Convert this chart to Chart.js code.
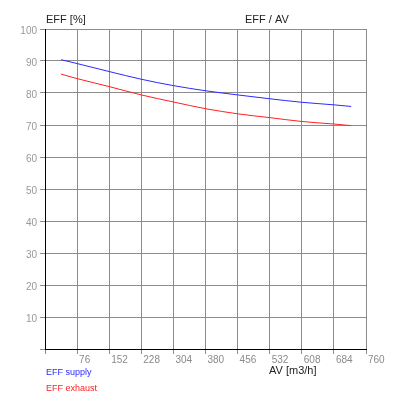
<!DOCTYPE html>
<html>
<head>
  <title>EFF / AV</title>
  <script src="https://cdn.jsdelivr.net/npm/chart.js"></script>
  <style>
    body {
      margin: 0;
      background: #fff;
    }
    #effChart {
      display: block;
    }
  </style>
</head>
<body>
  <canvas id="effChart" width="400" height="400"></canvas>

  <script>
    // air volume [m3/h] where the curves were read
    const airVolume = [38, 76, 152, 228, 304, 380, 456, 532, 608, 684, 725];
    const effSupply = [90.4, 89.2, 86.7, 84.3, 82.3, 80.7, 79.4, 78.2, 77.1, 76.3, 75.8];
    const effExhaust = [85.9, 84.5, 82.0, 79.4, 77.2, 75.1, 73.5, 72.3, 71.1, 70.3, 69.8];

    const xTicks = [0, 76, 152, 228, 304, 380, 456, 532, 608, 684, 760];
    const yTicks = [0, 10, 20, 30, 40, 50, 60, 70, 80, 90, 100];

    const seriesLabels = ['EFF supply', 'EFF exhaust'];
    const yAxisTitle = 'EFF [%]';
    const chartTitle = 'EFF / AV';
    const xAxisTitle = 'AV [m3/h]';

    const toPoints = (xs, ys) => xs.map((x, i) => ({ x: x, y: ys[i] }));

    // titles and the coloured legend texts are painted around the plot
    const textPlugin = {
      id: 'texts',
      afterDraw(chart) {
        const ctx = chart.ctx;
        const area = chart.chartArea;
        ctx.save();
        ctx.textBaseline = 'middle';
        ctx.textAlign = 'left';
        ctx.fillStyle = '#222';
        ctx.font = '11px Arial, "Liberation Sans", sans-serif';
        ctx.fillText(yAxisTitle, area.left + 1, area.top - 9);
        ctx.fillText(chartTitle, area.left + 200, area.top - 9);
        ctx.fillText(xAxisTitle, area.left + 224, area.bottom + 22);

        ctx.font = '9px Arial, "Liberation Sans", sans-serif';
        chart.data.datasets.forEach((ds, i) => {
          ctx.fillStyle = ds.borderColor;
          ctx.fillText(ds.label, area.left + 1, area.bottom + 24 + i * 16);
        });
        ctx.restore();
      }
    };

    const ctx = document.getElementById('effChart').getContext('2d');
    const chart = new Chart(ctx, {
      type: 'line',
      data: {
        datasets: [{
          label: seriesLabels[0],
          data: toPoints(airVolume, effSupply),
          borderColor: '#2a2aff',
          borderWidth: 1,
          pointRadius: 0,
          cubicInterpolationMode: 'monotone',
          fill: false
        }, {
          label: seriesLabels[1],
          data: toPoints(airVolume, effExhaust),
          borderColor: '#ff2020',
          borderWidth: 1,
          pointRadius: 0,
          cubicInterpolationMode: 'monotone',
          fill: false
        }]
      },
      options: {
        responsive: false,
        animation: false,
        devicePixelRatio: 1,
        layout: {
          padding: { top: 29, right: 34, left: 0, bottom: 0 }
        },
        plugins: {
          legend: { display: false },
          title: { display: false },
          tooltip: { enabled: false }
        },
        scales: {
          x: {
            type: 'linear',
            min: xTicks[0],
            max: xTicks[xTicks.length - 1],
            afterBuildTicks: s => { s.ticks = xTicks.map(v => ({ value: v })); },
            afterFit: s => { s.height = 51; },
            grid: {
              color: '#8c8c8c',
              lineWidth: 1,
              tickLength: 5,
              tickColor: '#8c8c8c'
            },
            border: { color: '#000', width: 1 },
            ticks: {
              align: 'start',
              labelOffset: 2,
              padding: 0,
              maxRotation: 0,
              autoSkip: false,
              color: '#8a8a8a',
              font: { family: 'Arial, "Liberation Sans", sans-serif', size: 10 },
              callback: v => (v === 0 ? '' : v)
            }
          },
          y: {
            min: yTicks[0],
            max: yTicks[yTicks.length - 1],
            afterBuildTicks: s => { s.ticks = yTicks.map(v => ({ value: v })); },
            afterFit: s => { s.width = 45; },
            grid: {
              color: '#8c8c8c',
              lineWidth: 1,
              tickLength: 5,
              tickColor: '#8c8c8c'
            },
            border: { color: '#000', width: 1 },
            ticks: {
              padding: 3,
              labelOffset: 2,
              autoSkip: false,
              color: '#999',
              font: { family: 'Arial, "Liberation Sans", sans-serif', size: 10 },
              callback: v => (v === 0 ? '' : v)
            }
          }
        }
      },
      plugins: [textPlugin]
    });
  </script>
</body>
</html>
